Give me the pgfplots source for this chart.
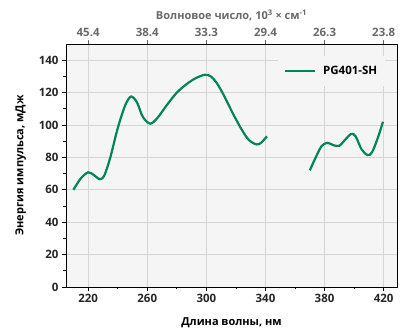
\documentclass[border=0pt]{standalone}
\usepackage{fontspec}
\setmainfont{Open Sans}
\usepackage{pgfplots}
\pgfplotsset{compat=1.18}
\definecolor{lineg}{RGB}{0,133,88}
\definecolor{bgc}{RGB}{245,245,245}
\definecolor{gridc}{RGB}{214,214,214}
\definecolor{topg}{RGB}{105,105,105}
\begin{document}
\begin{tikzpicture}[x=1pt,y=1pt]
\useasboundingbox (-66,-44) rectangle (341,287);
\begin{axis}[
  at={(0,0)}, anchor=south west,
  scale only axis, width=331pt, height=243pt,
  xmin=205, xmax=429, ymin=0, ymax=150,
  axis background/.style={fill=bgc},
  xtick={220,260,...,420}, minor xtick={240,280,...,400},
  ytick={0,20,...,140}, minor ytick={10,30,...,130},
  xtick pos=bottom, ytick pos=left,
  grid=major, major grid style={gridc, line width=0.9pt},
  tick align=outside,
  major tick length=4pt, minor tick length=2.5pt,
  tick style={black, line width=0.8pt},
  axis line style={black, line width=0.9pt},
  ticklabel style={font=\bfseries\fontsize{11.5}{13}\selectfont, text=black!85},
  /pgf/number format/assume math mode=true,
  xlabel={Длина волны, нм}, ylabel={Энергия импульса, мДж},
  label style={font=\bfseries\fontsize{11}{13}\selectfont},
  xlabel style={yshift=-8pt},
  ylabel style={yshift=6pt},
  legend style={at={(rel axis cs:0.965,0.95)}, anchor=north east, draw=none, fill=bgc,
    font=\bfseries\fontsize{11.5}{13}\selectfont, inner xsep=6pt, inner ysep=8pt,
    /tikz/every odd column/.append style={column sep=5pt}},
  legend cell align=left,
  legend image code/.code={\draw[#1] (0pt,0pt) -- (30pt,0pt);},
]
\addplot[lineg, line width=2.2pt, smooth, tension=0.5] coordinates {
(210,60) (215,67) (220,70.8) (224,69) (228,66.5) (231,69) (235,80) (240,98)
(245,112) (249,117.6) (253,114) (257,105) (262,100.8) (267,104.5) (273,112)
(280,120) (287,125.5) (293,129) (299,131) (303,130) (307,126) (312,118)
(318,107) (324,97) (329,90.5) (334,88) (337,89) (341,93)
};
\addlegendentry{PG401-SH}
\addplot[lineg, line width=2.2pt, smooth, tension=0.5, forget plot] coordinates {
(370,72) (374,80) (378,87) (382,89) (386,87.5) (390,87.2) (394,91) (398,94.5)
(401,93) (405,85) (409,81.5) (412,83) (416,92) (419.5,102)
};
\end{axis}
\begin{axis}[
  at={(0,0)}, anchor=south west,
  scale only axis, width=331pt, height=243pt,
  xmin=205, xmax=429, ymin=0, ymax=150,
  axis x line*=top, axis y line=none,
  xtick={220,260,...,420},
  xticklabels={45.4,38.4,33.3,29.4,26.3,23.8},
  tick align=outside, major tick length=4pt,
  tick style={topg, line width=0.8pt},
  axis line style={black, line width=0.9pt},
  ticklabel style={font=\bfseries\fontsize{11.5}{13}\selectfont, text=topg},
  xlabel={Волновое число, 10\textsuperscript{3} × см\textsuperscript{-1}},
  xlabel style={font=\bfseries\fontsize{11}{13}\selectfont, text=topg},
]
\addplot[draw=none] coordinates {(220,0)};
\end{axis}
\end{tikzpicture}
\end{document}
